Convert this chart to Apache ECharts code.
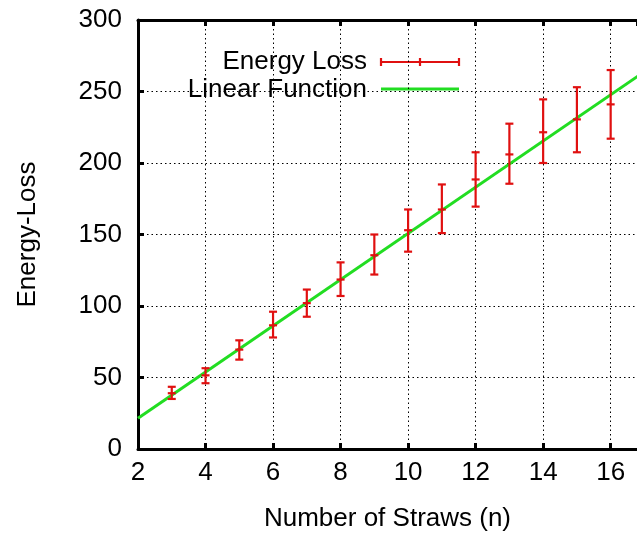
<!DOCTYPE html>
<html>
<head>
<meta charset="utf-8">
<script src="https://cdn.jsdelivr.net/npm/echarts@6/dist/echarts.min.js"></script>
<style>html,body{margin:0;padding:0;background:#fff;}#c{width:637px;height:533px;}</style>
</head>
<body>
<div id="c"></div>
<script>
// ---- data ----
const straws = [3, 4, 5, 6, 7, 8, 9, 10, 11, 12, 13, 14, 15, 16];
const energyLoss = [39, 51.5, 69.5, 86.5, 102, 118.5, 135.5, 153, 167.5, 188.5, 206, 221.5, 230.5, 241];
const errLow  = [35, 46, 62.5, 78, 92.5, 107, 122, 138, 151, 169.5, 185.5, 200, 207.5, 217];
const errHigh = [43.5, 56.5, 76, 96, 111.5, 130.5, 150, 167.5, 185, 207.5, 227.5, 244.5, 253, 265];
const fitX = [2, 18];
const fitY = [21.5, 280];
const xTicks = [2, 4, 6, 8, 10, 12, 14, 16];
const yTicks = [0, 50, 100, 150, 200, 250, 300];

const RED = '#e01010';
const GREEN = '#22dd22';
const FONT = '"Liberation Sans", Arial, sans-serif';
const FS = 26;

const chart = echarts.init(document.getElementById('c'), null, {renderer: 'canvas'});

const errData = straws.map((x, i) => [x, errLow[i], errHigh[i], energyLoss[i]]);
const fitData = fitX.map((x, i) => [x, fitY[i]]);

const gridLine = {show: true, lineStyle: {color: '#000', width: 1, type: [1.5, 3]}};
const XMAX = 16.78;

const option = {
  animation: false,
  backgroundColor: '#fff',
  grid: {left: 138, top: 20, bottom: 84, right: 0, containLabel: false, outerBoundsMode: 'none'},
  xAxis: [{
    type: 'value', min: 2, max: XMAX, interval: 2, position: 'bottom',
    axisLine: {show: true, onZero: false, lineStyle: {color: '#000', width: 3}},
    axisTick: {show: true, inside: true, length: 6, lineStyle: {color: '#000', width: 3}},
    axisLabel: {show: true, margin: 11, color: '#000', fontSize: FS, fontFamily: FONT,
      showMaxLabel: false,
      formatter: v => xTicks.includes(v) ? String(v) : ''},
    splitLine: gridLine,
    name: 'Number of Straws (n)', nameLocation: 'middle', nameGap: 57,
    nameTextStyle: {color: '#000', fontSize: FS, fontFamily: FONT},
  }, {
    type: 'value', min: 2, max: XMAX, interval: 2, position: 'top',
    axisLine: {show: true, onZero: false, lineStyle: {color: '#000', width: 3}},
    axisTick: {show: true, inside: true, length: 6, lineStyle: {color: '#000', width: 3}},
    axisLabel: {show: false},
    splitLine: {show: false}
  }],
  yAxis: [{
    type: 'value', min: 0, max: 300, interval: 50,
    axisLine: {show: true, onZero: false, lineStyle: {color: '#000', width: 3}},
    axisTick: {show: true, inside: true, length: 6, lineStyle: {color: '#000', width: 3}},
    axisLabel: {show: true, margin: 16, color: '#000', fontSize: FS, fontFamily: FONT,
      formatter: v => yTicks.includes(v) ? String(v) : ''},
    splitLine: gridLine,
    name: 'Energy-Loss', nameLocation: 'middle', nameGap: 97, nameRotate: 90,
    nameTextStyle: {color: '#000', fontSize: FS, fontFamily: FONT},
  }],
  series: [{
    type: 'line', name: 'Linear Function', data: fitData, xAxisIndex: 0, yAxisIndex: 0,
    showSymbol: false, symbol: 'none', lineStyle: {color: GREEN, width: 3}, z: 3, clip: true
  }, {
    type: 'custom', name: 'Energy Loss', data: errData, xAxisIndex: 0, yAxisIndex: 0, z: 4,
    renderItem: function (params, api) {
      const x = api.value(0);
      const lo = api.coord([x, api.value(1)]);
      const hi = api.coord([x, api.value(2)]);
      const mid = api.coord([x, api.value(3)]);
      const hw = 4;
      const st = {stroke: RED, lineWidth: 2.2};
      return {type: 'group', children: [
        {type: 'line', shape: {x1: lo[0], y1: lo[1], x2: hi[0], y2: hi[1]}, style: st},
        {type: 'line', shape: {x1: lo[0]-hw, y1: lo[1], x2: lo[0]+hw, y2: lo[1]}, style: st},
        {type: 'line', shape: {x1: hi[0]-hw, y1: hi[1], x2: hi[0]+hw, y2: hi[1]}, style: st},
        {type: 'line', shape: {x1: mid[0]-hw, y1: mid[1], x2: mid[0]+hw, y2: mid[1]}, style: st}
      ]};
    }
  }],
  graphic: [
    {type: 'text', x: 367, y: 62, style: {text: 'Energy Loss', fill: '#000', font: FS + 'px ' + FONT, align: 'right', verticalAlign: 'middle'}},
    {type: 'text', x: 367, y: 90, style: {text: 'Linear Function', fill: '#000', font: FS + 'px ' + FONT, align: 'right', verticalAlign: 'middle'}},
    {type: 'line', shape: {x1: 381, y1: 62, x2: 459, y2: 62}, style: {stroke: RED, lineWidth: 2.2}},
    {type: 'line', shape: {x1: 381, y1: 58, x2: 381, y2: 66}, style: {stroke: RED, lineWidth: 2.2}},
    {type: 'line', shape: {x1: 459, y1: 58, x2: 459, y2: 66}, style: {stroke: RED, lineWidth: 2.2}},
    {type: 'line', shape: {x1: 420, y1: 58, x2: 420, y2: 66}, style: {stroke: RED, lineWidth: 2.2}},
    {type: 'line', shape: {x1: 381, y1: 89, x2: 459, y2: 89}, style: {stroke: GREEN, lineWidth: 3}}
  ]
};
chart.setOption(option);
</script>
</body>
</html>
